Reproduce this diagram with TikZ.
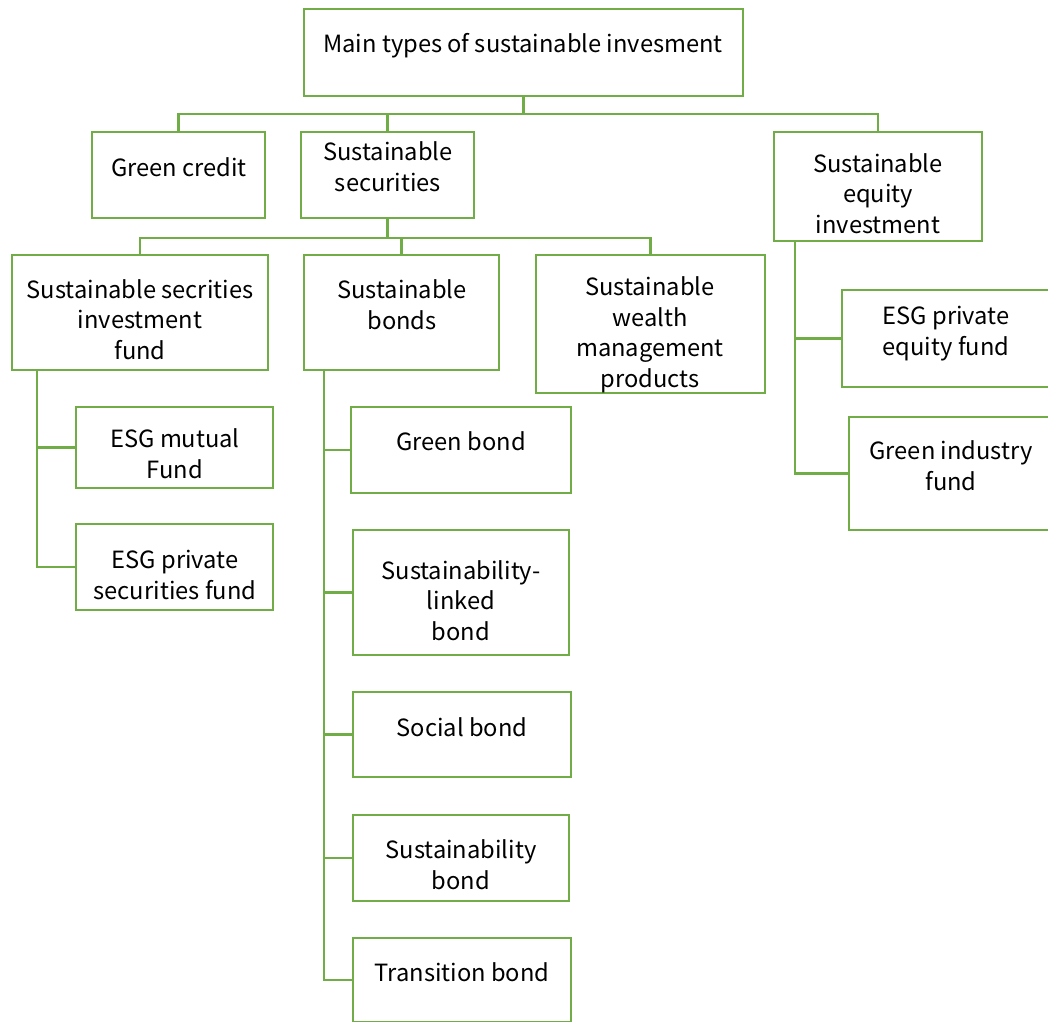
\documentclass[tikz,border=0pt]{standalone}
\usepackage{fontspec}
\setmainfont{Noto Sans CJK SC}
\definecolor{lgreen}{RGB}{112,173,71}
\newcommand{\bx}[5]{\node[box, minimum width={#4-#2}, minimum height={#5-#3}] (#1) at ({(#2+#4)/2},{(#3+#5)/2}) {};}
\begin{document}
\begin{tikzpicture}[x=1pt,y=-1pt,
  box/.style={draw=lgreen, line width=2.8pt, rectangle, inner sep=0pt, fill=white},
  txt/.style={font=\fontsize{23.7}{30.5}\selectfont, align=center, anchor=base, inner sep=0pt, text=black},
  conn/.style={draw=lgreen, line width=2.8pt}]
\useasboundingbox (0,0) rectangle (1048,1021);
\clip (0,0) rectangle (1048,1021);
% boxes
\bx{root}{304}{9}{743}{96}
\bx{gc}{92}{132}{265}{218}
\bx{ss}{301}{132}{474}{218}
\bx{eq}{774}{132}{982}{241}
\bx{sf}{12}{255}{268}{370}
\bx{bo}{304}{255}{499}{370}
\bx{wm}{536}{255}{765}{393}
\bx{mf}{76}{407}{273}{488}
\bx{pf}{76}{524}{273}{610}
\bx{gb}{351}{407}{571}{493}
\bx{sl}{353}{530}{569}{655}
\bx{so}{353}{692}{571}{777}
\bx{sb}{353}{815}{569}{901}
\bx{tb}{353}{938}{571}{1022}
\bx{pe}{842}{290}{1070}{387}
\bx{gi}{849}{417}{1070}{530}
% coordinates
\coordinate (b1) at (0,114);
\coordinate (b2) at (0,238);
\coordinate (sp1) at (37,0);
\coordinate (sp2) at (324,0);
\coordinate (sp3) at (795,0);
% connectors
\draw[conn] (root.south) -- (root.south |- b1);
\draw[conn] (gc.north) -- (gc.north |- b1) -- (eq.north |- b1) -- (eq.north);
\draw[conn] (ss.north) -- (ss.north |- b1);
\draw[conn] (ss.south) -- (ss.south |- b2);
\draw[conn] (sf.north) -- (sf.north |- b2) -- (wm.north |- b2) -- (wm.north);
\draw[conn] (bo.north) -- (bo.north |- b2);
\draw[conn] (sp1 |- sf.south) |- (pf.west);
\draw[conn] (sp1 |- mf.west) -- (mf.west);
\draw[conn] (sp2 |- bo.south) |- (tb.west);
\draw[conn] (sp2 |- gb.west) -- (gb.west);
\draw[conn] (sp2 |- sl.west) -- (sl.west);
\draw[conn] (sp2 |- so.west) -- (so.west);
\draw[conn] (sp2 |- sb.west) -- (sb.west);
\draw[conn] (sp3 |- eq.south) |- (gi.west);
\draw[conn] (sp3 |- pe.west) -- (pe.west);
% texts (anchor = baseline of last line)
\node[txt] (t-root) at (523,52) {Main types of sustainable invesment};
\node[txt] (t-gc) at (179,176) {Green credit};
\node[txt] (t-ss) at (388,191) {Sustainable\\securities};
\node[txt] (t-eq) at (878,233) {Sustainable\\equity\\investment};
\node[txt] (t-sf) at (140,359) {Sustainable secrities\\investment\\fund};
\node[txt] (t-bo) at (402,329) {Sustainable\\bonds};
\node[txt] (t-wm) at (650,387) {Sustainable\\wealth\\management\\products};
\node[txt] (t-mf) at (175,478) {ESG mutual\\Fund};
\node[txt] (t-pf) at (175,599) {ESG private\\securities fund};
\node[txt] (t-gb) at (461,450) {Green bond};
\node[txt] (t-sl) at (461,640) {Sustainability-\\linked\\bond};
\node[txt] (t-so) at (462,736) {Social bond};
\node[txt] (t-sb) at (461,889) {Sustainability\\bond};
\node[txt] (t-tb) at (462,981) {Transition bond};
\node[txt] (t-pe) at (946,355) {ESG private\\equity fund};
\node[txt] (t-gi) at (951,490) {Green industry\\fund};
\end{tikzpicture}
\end{document}
